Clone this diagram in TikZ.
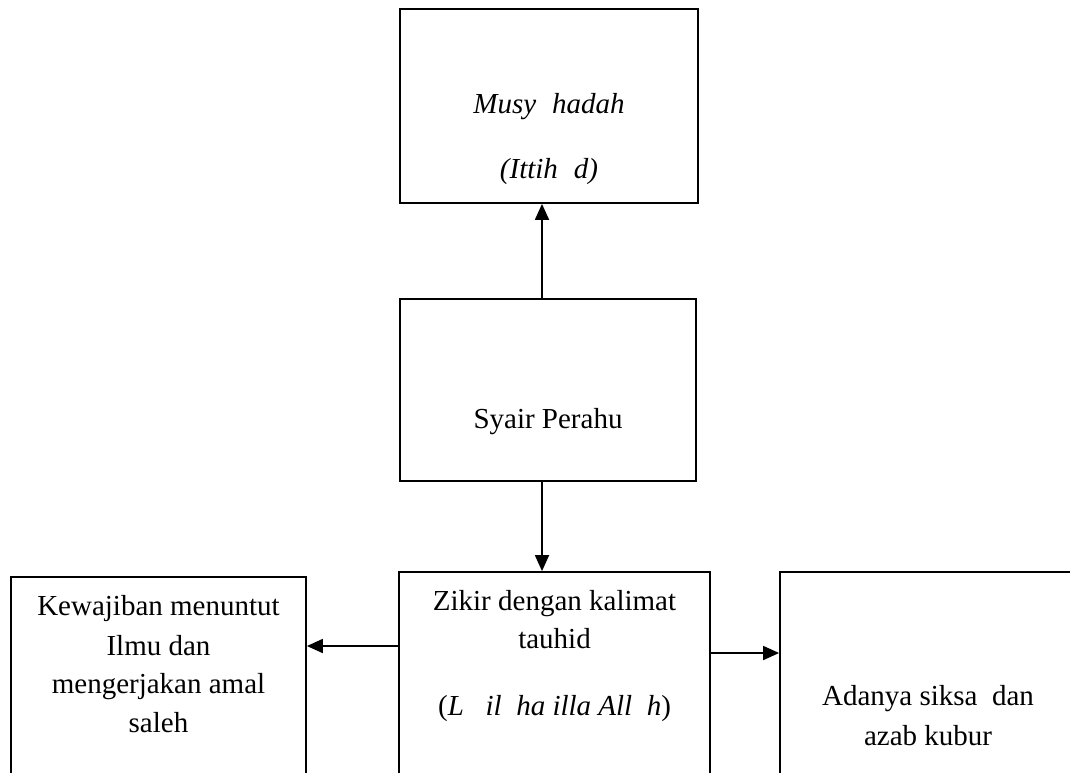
\documentclass[tikz,border=0pt]{standalone}
\usepackage{fontspec}
\setmainfont{Liberation Serif}
\usetikzlibrary{arrows.meta}
\tikzset{
  box/.style={draw=black, line width=1.8pt, fill=none, inner sep=0pt},
  lbl/.style={anchor=base, inner sep=0pt, font=\fontsize{29}{40}\selectfont},
  arr/.style={line width=1.8pt, -{Triangle[length=16pt,width=14pt]}},
}
\newcommand{\gap}[1][0.6em]{\hspace{#1}}
\begin{document}
\begin{tikzpicture}[x=1pt, y=-1pt]
  \useasboundingbox (0,0) rectangle (1070,772);
  \fill[white] (0,0) rectangle (1070,772);
  \clip (0,0) rectangle (1070,772);

  % boxes (the lower row runs past the page edge)
  \node[box, minimum width=298pt, minimum height=194pt] (top)   at (549,106)   {};
  \node[box, minimum width=296pt, minimum height=182pt] (syair) at (548,390)   {};
  \node[box, minimum width=311pt, minimum height=258pt] (zikir) at (554.5,701) {};
  \node[box, minimum width=295pt, minimum height=253pt] (ilmu)  at (158.5,703.5) {};
  \node[box, minimum width=350pt, minimum height=258pt] (azab)  at (955,701)   {};

  % texts
  \node[lbl] (t1) at (549,113) {\itshape Musy\gap[0.55em]hadah};
  \node[lbl] (t2) at (549,178) {\itshape (Ittih\gap[0.55em]d)};
  \node[lbl] (s1) at (548,428) {Syair Perahu};
  \node[lbl] (z1) at (554.5,610) {Zikir dengan kalimat};
  \node[lbl] (z2) at (554.5,648) {tauhid};
  \node[lbl] (z3) at (554.5,715) {(\textit{L\gap[0.75em]il\gap[0.5em]ha illa All\gap[0.5em]h})};
  \node[lbl] (k1) at (158.5,615) {Kewajiban menuntut};
  \node[lbl] (k2) at (158.5,655) {Ilmu dan};
  \node[lbl] (k3) at (158.5,693) {mengerjakan amal};
  \node[lbl] (k4) at (158.5,732) {saleh};
  \node[lbl] (a1) at (928,705) {Adanya siksa\ \ dan};
  \node[lbl] (a2) at (928,745) {azab kubur};

  % connectors
  \draw[arr] ([xshift=-6pt]syair.north) -- ([xshift=-6pt]syair.north |- top.south);
  \draw[arr] ([xshift=-6pt]syair.south) -- ([xshift=-6pt]syair.south |- zikir.north);
  \draw[arr] ([yshift=55pt]zikir.west) -- ([yshift=55pt]zikir.west -| ilmu.east);
  \draw[arr] ([yshift=48pt]zikir.east) -- ([yshift=48pt]zikir.east -| azab.west);
\end{tikzpicture}
\end{document}
